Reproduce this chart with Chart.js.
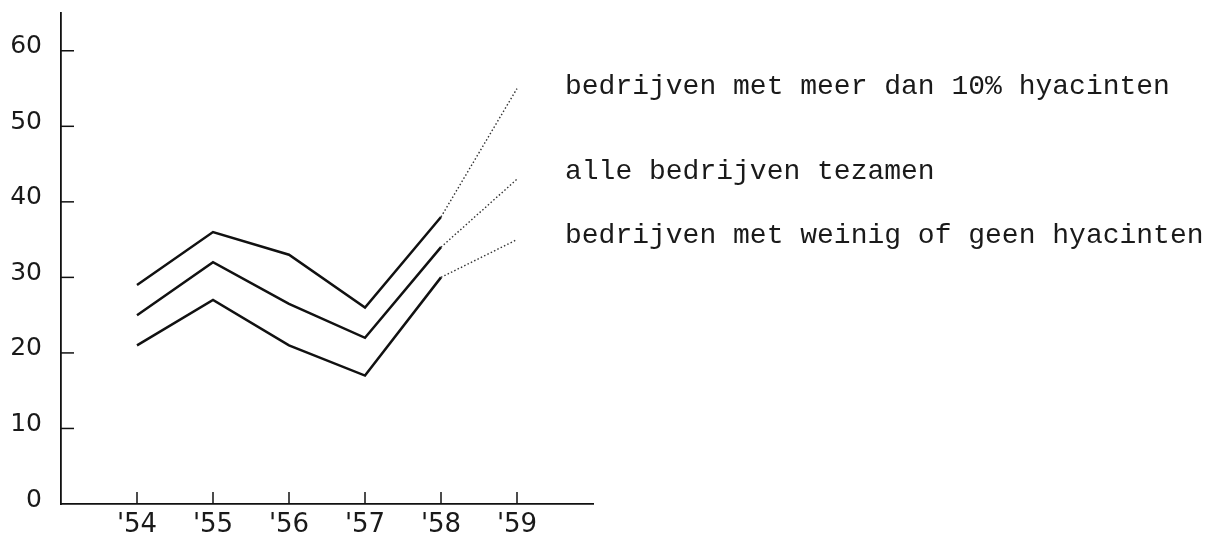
<!DOCTYPE html>
<html>
<head>
<meta charset="utf-8">
<script src="https://cdn.jsdelivr.net/npm/chart.js@4.4.1/dist/chart.umd.min.js"></script>
<style>
  html, body { margin: 0; padding: 0; background: #fff; }
  #wrap { position: relative; width: 1215px; height: 541px; }
  .note {
    position: absolute;
    left: 565px;
    font-family: "Liberation Mono", "DejaVu Sans Mono", monospace;
    font-size: 28px;
    color: #1a1a1a;
    white-space: pre;
    line-height: 1;
  }
</style>
</head>
<body>
<div id="wrap">
  <canvas id="chart" width="1215" height="541"></canvas>
  <div class="note" style="top:73px">bedrijven met meer dan 10% hyacinten</div>
  <div class="note" style="top:158px">alle bedrijven tezamen</div>
  <div class="note" style="top:222px">bedrijven met weinig of geen hyacinten</div>
</div>
<script>
// jaren en tick labels
const years = [1954, 1955, 1956, 1957, 1958, 1959];
const yearLabels = ["'54", "'55", "'56", "'57", "'58", "'59"];
const yTicks = [0, 10, 20, 30, 40, 50, 60];

// waarden per groep
const veelHyacinten = [29, 36, 33, 26, 38, 55];
const alleBedrijven = [25, 32, 26.5, 22, 34, 43];
const weinigHyacinten = [21, 27, 21, 17, 30, 35];

// laatste jaar ('58 -> '59) is gestippeld
const lastSolid = 4;

function solidPart(values) {
    return years.map((x, i) => ({ x: x, y: i <= lastSolid ? values[i] : null }));
}

function dottedPart(values) {
    return years.map((x, i) => ({ x: x, y: i >= lastSolid ? values[i] : null }));
}

function solidSet(values) {
    return {
        data: solidPart(values),
        borderColor: "#111",
        borderWidth: 2.5,
        pointRadius: 0,
        tension: 0,
        spanGaps: false
    };
}

function dottedSet(values) {
    return {
        data: dottedPart(values),
        borderColor: "#333",
        borderWidth: 1.4,
        borderDash: [1.5, 2.2],
        pointRadius: 0,
        tension: 0,
        spanGaps: false
    };
}

// korte streepjes naar binnen, zoals in het origineel
const innerTicks = {
    id: "innerTicks",
    afterDraw(chart) {
        const ctx = chart.ctx;
        const xs = chart.scales.x;
        const ys = chart.scales.y;
        ctx.save();
        ctx.strokeStyle = "#111";
        ctx.lineWidth = 1.5;
        yTicks.forEach((v) => {
            if (v === 0) return;
            const py = ys.getPixelForValue(v);
            ctx.beginPath();
            ctx.moveTo(xs.left, py);
            ctx.lineTo(xs.left + 13, py);
            ctx.stroke();
        });
        years.forEach((yr) => {
            const px = xs.getPixelForValue(yr);
            ctx.beginPath();
            ctx.moveTo(px, ys.bottom);
            ctx.lineTo(px, ys.bottom - 12);
            ctx.stroke();
        });
        ctx.restore();
    }
};

new Chart(document.getElementById("chart"), {
    type: "line",
    data: {
        datasets: [
            solidSet(veelHyacinten),
            dottedSet(veelHyacinten),
            solidSet(alleBedrijven),
            dottedSet(alleBedrijven),
            solidSet(weinigHyacinten),
            dottedSet(weinigHyacinten)
        ]
    },
    options: {
        responsive: false,
        animation: false,
        layout: { padding: { top: 13, right: 622, left: 0, bottom: 0 } },
        plugins: {
            legend: { display: false },
            tooltip: { enabled: false }
        },
        scales: {
            x: {
                type: "linear",
                min: 1953,
                max: 1960,
                afterBuildTicks: (scale) => {
                    scale.ticks = years.map((v) => ({ value: v }));
                },
                afterFit: (scale) => {
                    scale.height = 37;
                    scale.paddingLeft = 0;
                    scale.paddingRight = 0;
                },
                grid: { display: false, drawTicks: false },
                border: { display: true, color: "#111", width: 1.8 },
                ticks: {
                    padding: 6,
                    color: "#1a1a1a",
                    font: { family: "DejaVu Sans", size: 26 },
                    callback: (v) => yearLabels[years.indexOf(v)]
                }
            },
            y: {
                min: 0,
                max: 65,
                afterBuildTicks: (scale) => {
                    scale.ticks = yTicks.map((v) => ({ value: v }));
                },
                afterFit: (scale) => {
                    scale.width = 61;
                    scale.paddingTop = 0;
                    scale.paddingBottom = 0;
                },
                grid: { display: false, drawTicks: false },
                border: { display: true, color: "#111", width: 1.8 },
                ticks: {
                    padding: 19,
                    labelOffset: -4,
                    color: "#1a1a1a",
                    font: { family: "DejaVu Sans", size: 25 }
                }
            }
        }
    },
    plugins: [innerTicks]
});
</script>
</body>
</html>
